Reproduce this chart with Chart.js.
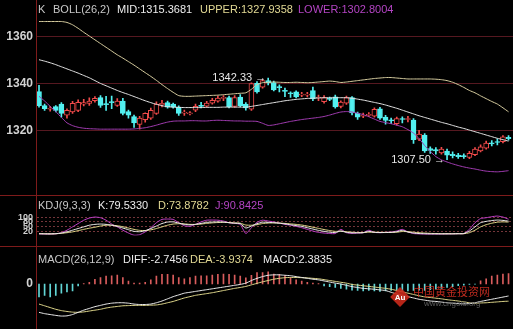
<!DOCTYPE html>
<html>
<head>
<meta charset="utf-8">
<title>K BOLL KDJ MACD</title>
<script src="https://cdn.jsdelivr.net/npm/chart.js@4.4.1/dist/chart.umd.min.js"></script>
<style>
  html, body { margin: 0; padding: 0; background: #000; }
  #board { position: relative; width: 513px; height: 329px; overflow: hidden; background: #000;
    font-family: "Liberation Sans", Arial, sans-serif; font-size: 11px; }
  #board canvas { position: absolute; left: 0; }
  .t { position: absolute; white-space: pre; line-height: 12px; }
  .rule { position: absolute; background: #7e1b1b; }
  .gray { color: #c8c8c8; }
  .white { color: #ececec; }
  .yellow { color: #e2d994; }
  .purple { color: #b444c4; }
</style>
</head>
<body>
<div id="board">
  <canvas id="main" width="513" height="195" style="top:0"></canvas>
  <canvas id="kdj" width="513" height="49" style="top:196px"></canvas>
  <canvas id="macd" width="513" height="82" style="top:247px"></canvas>

  <div class="rule" style="left:0;top:195px;width:513px;height:1px"></div>
  <div class="rule" style="left:0;top:246px;width:513px;height:1px"></div>
  <div class="rule" style="left:36px;top:0;width:1px;height:329px"></div>

  <span class="t gray" style="left:38px;top:3px">K</span>
  <span class="t gray" style="left:53px;top:3px">BOLL(26,2)</span>
  <span class="t white" style="left:117px;top:3px">MID:1315.3681</span>
  <span class="t yellow" style="left:200px;top:3px">UPPER:1327.9358</span>
  <span class="t purple" style="left:298px;top:3px">LOWER:1302.8004</span>

  <span class="t gray" style="left:38px;top:199px">KDJ(9,3,3)</span>
  <span class="t white" style="left:98px;top:199px">K:79.5330</span>
  <span class="t yellow" style="left:158px;top:199px">D:73.8782</span>
  <span class="t purple" style="left:215px;top:199px">J:90.8425</span>

  <span class="t gray" style="left:38px;top:253px">MACD(26,12,9)</span>
  <span class="t white" style="left:123px;top:253px">DIFF:-2.7456</span>
  <span class="t yellow" style="left:190px;top:253px">DEA:-3.9374</span>
  <span class="t white" style="left:263px;top:253px">MACD:2.3835</span>

  <div style="position:absolute;left:393px;top:290px;width:14px;height:14px;background:#c9291b;transform:rotate(45deg);opacity:0.9"></div>
  <span class="t" style="left:392px;top:292px;width:16px;text-align:center;color:#fff;font-size:8px;font-weight:bold">Au</span>
  <span class="t" style="left:413px;top:285px;color:#cf2f22;font-family:'Noto Sans CJK SC';font-size:11px;opacity:0.9">中国黄金投资网</span>
  <span class="t" style="left:424px;top:298px;color:#5e5e5e;font-size:8px">www.cngold.org</span>
</div>

<script>
// candles, one per bar, left to right
const opens = [
  1336.5, 1330.5, 1329.0, 1330.1, 1331.2, 1326.5, 1327.9, 1328.5, 1331.2, 1331.5,
  1332.6, 1334.0, 1331.4, 1332.2, 1330.6, 1332.5, 1328.0, 1325.9, 1322.5, 1324.5,
  1325.2, 1327.2, 1330.9, 1331.8, 1331.2, 1329.9, 1327.3, 1327.0, 1328.6, 1330.6,
  1330.3, 1331.6, 1332.4, 1333.6, 1334.0, 1330.2, 1334.2, 1331.2, 1329.0, 1340.0,
  1338.4, 1341.2, 1340.4, 1338.6, 1337.0, 1336.0, 1336.4, 1335.0, 1335.0, 1337.0,
  1333.8, 1332.2, 1333.5, 1334.3, 1330.2, 1331.6, 1334.0, 1327.2, 1326.0, 1326.4,
  1326.0, 1329.2, 1325.6, 1324.4, 1322.8, 1325.0, 1324.6, 1324.4, 1316.2, 1318.0,
  1312.2, 1311.8, 1310.4, 1311.2, 1309.8, 1309.4, 1309.2, 1308.4, 1309.6, 1311.2,
  1312.4, 1314.6, 1315.2, 1315.2, 1317.0,
];
const highs = [
  1339.2, 1331.2, 1330.2, 1330.6, 1331.8, 1329.2, 1332.4, 1333.0, 1333.2, 1333.9,
  1334.4, 1334.8, 1334.5, 1334.6, 1333.5, 1333.6, 1328.6, 1326.5, 1326.0, 1327.5,
  1329.5, 1332.2, 1332.8, 1332.5, 1331.6, 1330.4, 1328.6, 1328.0, 1331.2, 1331.9,
  1332.4, 1333.6, 1334.6, 1334.8, 1334.6, 1334.8, 1335.2, 1331.8, 1340.3, 1340.8,
  1341.6, 1342.33, 1341.0, 1339.4, 1338.0, 1336.4, 1336.8, 1336.2, 1336.2, 1338.4,
  1335.0, 1334.8, 1334.2, 1335.0, 1332.6, 1334.6, 1334.4, 1327.8, 1327.4, 1327.6,
  1329.6, 1329.8, 1326.4, 1325.2, 1325.6, 1325.8, 1326.0, 1325.0, 1320.0, 1318.6,
  1313.0, 1312.6, 1312.8, 1312.0, 1310.8, 1310.2, 1310.0, 1311.0, 1312.6, 1313.8,
  1315.4, 1315.6, 1316.4, 1317.8, 1317.8,
];
const lows = [
  1329.9, 1328.5, 1328.2, 1327.8, 1325.6, 1325.2, 1327.2, 1328.0, 1330.4, 1330.6,
  1332.0, 1329.8, 1328.5, 1329.2, 1330.2, 1326.6, 1325.2, 1321.2, 1320.5, 1323.5,
  1324.6, 1326.8, 1330.0, 1329.4, 1329.4, 1326.4, 1326.4, 1326.6, 1328.0, 1329.6,
  1329.9, 1331.2, 1332.0, 1332.6, 1329.6, 1329.8, 1330.0, 1328.6, 1328.5, 1335.8,
  1338.0, 1339.4, 1336.8, 1336.4, 1334.4, 1334.0, 1333.8, 1334.4, 1334.2, 1332.6,
  1332.6, 1331.6, 1332.6, 1329.4, 1329.6, 1331.0, 1326.6, 1324.6, 1325.4, 1325.8,
  1325.6, 1324.6, 1322.6, 1322.8, 1322.2, 1323.2, 1323.6, 1314.4, 1315.6, 1310.6,
  1310.2, 1309.8, 1309.8, 1307.5, 1308.2, 1308.0, 1308.0, 1307.9, 1309.2, 1310.8,
  1312.0, 1313.4, 1313.8, 1314.6, 1315.8,
];
const closes = [
  1330.5, 1329.2, 1329.4, 1328.5, 1327.2, 1328.5, 1331.5, 1331.9, 1331.8, 1332.5,
  1333.6, 1330.6, 1330.9, 1331.8, 1332.5, 1327.2, 1326.5, 1323.2, 1325.2, 1327.2,
  1328.5, 1331.2, 1331.5, 1329.9, 1329.9, 1327.2, 1327.8, 1327.4, 1330.2, 1330.2,
  1331.6, 1332.8, 1333.8, 1334.0, 1330.1, 1334.0, 1330.5, 1329.6, 1339.9, 1336.4,
  1341.2, 1340.2, 1337.2, 1338.2, 1336.6, 1335.6, 1334.2, 1335.4, 1335.5, 1333.4,
  1334.2, 1334.0, 1333.2, 1330.0, 1332.0, 1334.0, 1327.4, 1325.6, 1326.4, 1326.8,
  1329.0, 1325.2, 1324.2, 1324.0, 1325.0, 1324.6, 1325.0, 1316.0, 1318.4, 1311.2,
  1311.4, 1311.2, 1312.0, 1309.4, 1309.2, 1308.8, 1308.8, 1310.2, 1312.0, 1313.0,
  1314.6, 1314.2, 1314.8, 1317.2, 1316.4,
];

// BOLL(26,2)
const bollUpper = [
  1366.4, 1366.4, 1366.4, 1366.4, 1366.4, 1366.0, 1365.0, 1363.5, 1361.8, 1360.2,
  1358.6, 1357.0, 1355.4, 1353.8, 1352.2, 1350.8, 1349.3, 1347.8, 1346.2, 1344.6,
  1343.0, 1341.3, 1339.5, 1337.8, 1336.2, 1334.8, 1334.5, 1334.5, 1334.6, 1334.7,
  1334.8, 1334.9, 1335.0, 1335.2, 1335.4, 1335.6, 1335.8, 1336.0, 1337.5, 1339.5,
  1340.3, 1340.5, 1340.6, 1340.5, 1340.4, 1340.4, 1340.5, 1340.4, 1340.3, 1340.4,
  1340.6, 1340.8, 1341.0, 1340.8, 1340.4, 1340.6, 1340.9, 1341.2, 1341.5, 1341.8,
  1342.1, 1342.3, 1342.5, 1342.5, 1342.3, 1342.1, 1341.9, 1341.9, 1341.9, 1341.9,
  1341.9, 1341.8, 1341.6, 1341.2, 1340.5, 1339.5, 1338.3, 1337.0, 1336.0, 1334.7,
  1333.5, 1332.3, 1331.2, 1329.6, 1327.9,
];
const bollMid = [
  1350.1, 1349.5, 1348.8, 1348.0, 1347.1, 1346.2, 1345.3, 1344.4, 1343.4, 1342.4,
  1341.2, 1340.0, 1339.0, 1338.0, 1337.0, 1336.1, 1335.3, 1334.4, 1333.5, 1332.6,
  1331.8, 1331.1, 1330.5, 1330.1, 1329.9, 1329.8, 1329.7, 1329.7, 1329.7, 1329.7,
  1329.8, 1329.8, 1329.8, 1329.9, 1329.9, 1329.9, 1329.9, 1329.9, 1330.2, 1330.6,
  1331.0, 1331.4, 1331.8, 1332.2, 1332.6, 1332.9, 1333.2, 1333.4, 1333.6, 1333.7,
  1333.8, 1333.9, 1333.9, 1333.9, 1333.9, 1333.9, 1333.7, 1333.3, 1332.9, 1332.4,
  1331.9, 1331.4, 1330.8, 1330.1, 1329.4, 1328.6, 1327.8, 1327.0, 1326.2, 1325.5,
  1324.8, 1324.1, 1323.4, 1322.8, 1322.1, 1321.4, 1320.8, 1320.1, 1319.4, 1318.7,
  1318.0, 1317.3, 1316.6, 1316.0, 1315.4,
];
const bollLower = [
  1334.5, 1332.5, 1330.2, 1328.0, 1325.5, 1323.2, 1322.0, 1321.3, 1320.9, 1320.7,
  1320.6, 1320.5, 1320.5, 1320.5, 1320.5, 1320.5, 1320.5, 1320.6, 1320.8, 1321.1,
  1321.6, 1322.2, 1322.9, 1323.5, 1323.9, 1324.0, 1324.0, 1324.1, 1324.1, 1324.0,
  1324.0, 1324.2, 1324.3, 1324.2, 1324.1, 1324.0, 1324.0, 1323.9, 1323.9, 1323.8,
  1323.0, 1322.1, 1322.3, 1322.8, 1323.3, 1323.8, 1324.2, 1324.6, 1324.9, 1325.2,
  1325.5, 1325.9, 1326.5, 1327.2, 1327.8, 1328.0, 1327.8, 1327.3, 1326.7, 1325.8,
  1324.8, 1323.8, 1323.3, 1322.8, 1322.2, 1321.5, 1320.3, 1318.8, 1316.5, 1313.5,
  1311.0, 1308.8, 1307.4, 1306.5, 1305.7, 1305.0, 1304.4, 1303.9, 1303.5, 1303.0,
  1302.6, 1302.4, 1302.3, 1302.5, 1302.8,
];

// KDJ(9,3,3)
const kdjK = [
  4, 3, 3, 4, 8, 15, 25, 35, 45, 55,
  60, 62, 60, 55, 48, 38, 28, 18, 16, 22,
  35, 50, 65, 74, 75, 68, 60, 57, 60, 66,
  72, 74, 75, 74, 70, 67, 65, 38, 50, 64,
  73, 72, 70, 67, 63, 58, 53, 48, 40, 32,
  24, 18, 13, 11, 20, 12, 9, 9, 10, 18,
  12, 11, 11, 12, 16, 24, 14, 8, 5, 4,
  3, 3, 3, 3, 3, 4, 5, 20, 45, 70,
  78, 83, 86, 84, 79.53,
];
const kdjD = [
  4, 4, 3, 4, 6, 10, 15, 22, 30, 37,
  43, 50, 55, 55, 52, 46, 38, 30, 24, 23,
  27, 35, 45, 55, 62, 64, 63, 60, 60, 62,
  66, 69, 71, 72, 71, 69, 67, 56, 55, 58,
  65, 68, 69, 68, 66, 63, 60, 56, 50, 43,
  36, 29, 23, 18, 19, 16, 13, 11, 11, 13,
  13, 12, 12, 12, 13, 17, 16, 13, 10, 8,
  6, 5, 4, 4, 4, 4, 4, 10, 25, 45,
  58, 67, 73, 75, 73.88,
];
const kdjJ = [
  3, 2, 2, 3, 10, 25, 45, 65, 85, 98,
  104, 100, 85, 62, 45, 25, 8, -5, -2, 15,
  40, 70, 90, 92, 90, 70, 52, 48, 60, 75,
  85, 86, 85, 80, 70, 66, 60, 5, 40, 72,
  85, 80, 75, 68, 60, 55, 48, 40, 30, 20,
  12, 8, 5, 5, 30, 10, 6, 8, 10, 25,
  12, 10, 12, 14, 20, 30, 15, 5, 3, 2,
  2, 2, 2, 3, 3, 4, 5, 30, 70, 95,
  100, 106, 110, 104, 90.84,
];

// MACD(26,12,9)
const macdDiff = [
  -6.5, -6.8, -7.0, -7.2, -7.35, -7.3, -7.0, -6.5, -6.0, -5.6,
  -5.2, -4.9, -4.6, -4.4, -4.3, -4.3, -4.4, -4.6, -4.7, -4.7,
  -4.6, -4.3, -3.9, -3.4, -2.9, -2.5, -2.1, -1.9, -1.7, -1.5,
  -1.3, -1.1, -0.9, -0.7, -0.5, -0.3, -0.1, 0.2, 0.8, 1.3,
  1.7, 2.0, 2.1, 2.1, 2.0, 1.9, 1.7, 1.5, 1.3, 1.1,
  0.95, 0.7, 0.45, 0.2, 0.0, -0.3, -0.6, -0.8, -1.0, -1.1,
  -1.2, -1.35, -1.5, -1.9, -2.3, -2.6, -2.9, -3.2, -3.5, -3.7,
  -3.9, -4.0, -4.15, -4.3, -4.4, -4.5, -4.55, -4.5, -4.3, -4.0,
  -3.75, -3.5, -3.25, -3.0, -2.75,
];
const macdDea = [
  -4.6, -5.0, -5.4, -5.8, -6.1, -6.3, -6.45, -6.5, -6.4, -6.2,
  -6.0, -5.8, -5.5, -5.3, -5.15, -5.0, -4.95, -4.9, -4.9, -4.9,
  -4.85, -4.8, -4.6, -4.3, -4.0, -3.6, -3.2, -2.9, -2.6, -2.4,
  -2.2, -2.0, -1.75, -1.5, -1.25, -1.0, -0.8, -0.55, -0.2, 0.15,
  0.5, 0.8, 1.1, 1.3, 1.45, 1.5, 1.5, 1.45, 1.4, 1.3,
  1.2, 1.0, 0.8, 0.6, 0.4, 0.2, -0.1, -0.25, -0.4, -0.55,
  -0.7, -0.85, -1.0, -1.2, -1.5, -1.8, -2.1, -2.4, -2.7, -2.95,
  -3.1, -3.25, -3.4, -3.6, -3.75, -3.9, -4.1, -4.3, -4.4, -4.35,
  -4.3, -4.2, -4.1, -4.0, -3.94,
];
const macdHist = [
  -2.95, -2.6, -2.95, -2.6, -2.1, -1.8, -1.6, -0.45, 0.08, 0.38,
  1.1, 1.5, 1.8, 1.9, 2.05, 1.5, 0.67, 0.22, 0.22, 0.38,
  0.95, 1.8, 2.2, 2.2, 2.05, 1.5, 1.2, 1.5, 1.8, 1.9,
  1.9, 2.05, 2.2, 2.3, 2.2, 2.05, 1.8, 1.4, 2.0, 2.6,
  2.6, 2.8, 2.3, 2.2, 1.9, 1.5, 0.95, 0.67, 0.38, 0.22,
  0.1, -0.45, -0.6, -0.8, -1.0, -1.2, -1.4, -1.5, -1.6, -1.5,
  -1.6, -1.7, -1.6, -1.5, -1.6, -1.7, -1.6, -1.5, -1.4, -1.5,
  -1.3, -1.2, -1.0, -0.8, -0.6, -0.4, -0.25, -0.1, -0.05, 0.7,
  1.2, 1.8, 2.05, 2.3, 2.38,
];

// axis ticks
const priceTicks = [1320, 1340, 1360];
const kdjTicks = [20, 50, 80, 100];
const macdTicks = [0];

const RED = '#f04a4a';
const CYAN = '#52f0f0';
const AXIS_W = 37;
const X_MIN = -0.36;
const X_MAX = 84.8;

const idx = opens.map((_, i) => i);
const isUp = idx.map((i) => closes[i] >= opens[i]);
const pts = (arr) => arr.map((v, i) => ({ x: i, y: v }));

function lineSet(data, color) {
  return {
    type: 'line',
    data: pts(data),
    borderColor: color,
    borderWidth: 1,
    pointRadius: 0,
    tension: 0.2,
    order: 0,
  };
}

function panelOptions(yMin, yMax, ticks, tickFont, grid, padTop) {
  return {
    responsive: false,
    animation: false,
    events: [],
    devicePixelRatio: 1,
    layout: { padding: { top: padTop || 0 } },
    plugins: { legend: { display: false }, tooltip: { enabled: false } },
    scales: {
      x: { type: 'linear', display: false, offset: false, min: X_MIN, max: X_MAX },
      y: {
        min: yMin,
        max: yMax,
        afterFit(scale) { scale.width = AXIS_W; },
        afterBuildTicks(scale) { scale.ticks = ticks.map((v) => ({ value: v })); },
        border: grid.border,
        grid: grid.grid,
        ticks: {
          autoSkip: false,
          padding: 4,
          color: '#d2d2d2',
          font: tickFont,
          callback: (v) => String(v),
        },
      },
    },
  };
}

// value tag with an arrow for the highest high and lowest low
const extremeTags = {
  id: 'extremeTags',
  afterDatasetsDraw(chart) {
    const { ctx, scales: { x, y } } = chart;
    const hi = highs.indexOf(Math.max(...highs));
    const lo = lows.indexOf(Math.min(...lows));
    ctx.save();
    ctx.font = '11px "Liberation Sans", Arial, sans-serif';
    ctx.fillStyle = '#e8e8e8';
    ctx.textAlign = 'right';
    ctx.textBaseline = 'middle';
    ctx.fillText(highs[hi].toFixed(2) + ' \u2192', x.getPixelForValue(hi) - 2, y.getPixelForValue(highs[hi]));
    ctx.fillText(lows[lo].toFixed(2) + ' \u2192', x.getPixelForValue(lo) - 2, y.getPixelForValue(lows[lo]));
    ctx.restore();
  },
};

new Chart(document.getElementById('main'), {
  type: 'bar',
  data: {
    datasets: [
      lineSet(bollUpper, '#d8cea0'),
      lineSet(bollMid, '#e4e4e4'),
      lineSet(bollLower, '#a23cb2'),
      {
        data: idx.map((i) => ({ x: i, y: [opens[i], closes[i]] })),
        backgroundColor: isUp.map((u) => (u ? '#000' : CYAN)),
        borderColor: isUp.map((u) => (u ? RED : CYAN)),
        borderWidth: 1,
        borderSkipped: false,
        barThickness: 5,
        minBarLength: 1,
        grouped: false,
        order: 1,
      },
      {
        data: idx.map((i) => ({ x: i, y: [lows[i], highs[i]] })),
        backgroundColor: isUp.map((u) => (u ? RED : CYAN)),
        borderWidth: 0,
        barThickness: 1,
        minBarLength: 1,
        grouped: false,
        order: 2,
      },
    ],
  },
  options: panelOptions(1297.2, 1369.6, priceTicks, { size: 12, weight: 'bold' }, {
    border: { display: false },
    grid: { color: '#561820', lineWidth: 1, drawTicks: false },
  }, 14),
  plugins: [extremeTags],
});

new Chart(document.getElementById('kdj'), {
  type: 'line',
  data: {
    datasets: [
      lineSet(kdjK, '#ececec'),
      lineSet(kdjD, '#e2d98a'),
      lineSet(kdjJ, '#c040c8'),
    ],
  },
  options: panelOptions(-7.4, 174, kdjTicks, { size: 9, weight: 'bold' }, {
    border: { display: false, dash: [2, 2] },
    grid: { color: '#74363a', lineWidth: 1, drawTicks: false },
  }),
});

new Chart(document.getElementById('macd'), {
  type: 'bar',
  data: {
    datasets: [
      lineSet(macdDiff, '#ececec'),
      lineSet(macdDea, '#e0d88c'),
      {
        data: pts(macdHist),
        backgroundColor: macdHist.map((v) => (v >= 0 ? '#d85c5c' : '#62d6d6')),
        borderWidth: 0,
        barThickness: 1,
        grouped: false,
        order: 1,
      },
    ],
  },
  options: panelOptions(-7.75, 5.917, macdTicks, { size: 12, weight: 'bold' }, {
    border: { display: false },
    grid: { display: false, drawTicks: false },
  }),
});
</script>
</body>
</html>
